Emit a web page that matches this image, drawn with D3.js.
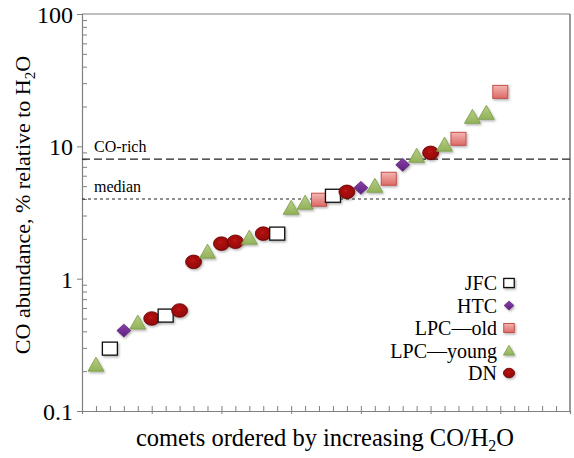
<!DOCTYPE html>
<html><head><meta charset="utf-8">
<script src="https://cdn.jsdelivr.net/npm/d3@7"></script>
<style>body{margin:0;background:#fff;} svg{display:block;} svg text{font-family:"Liberation Serif","Times New Roman",Times,"DejaVu Serif",serif;}</style>
</head><body>
<svg id="c" width="574" height="458"></svg>
<script>
const categories = ["LPC—young","JFC","HTC","LPC—young","DN","JFC","DN","DN","LPC—young","DN",
  "DN","LPC—young","DN","JFC","LPC—young","LPC—young","LPC—old","JFC","DN","HTC",
  "LPC—young","LPC—old","HTC","LPC—young","DN","LPC—young","LPC—old","LPC—young","LPC—young","LPC—old"];
const values = [0.224,0.296,0.405,0.466,0.50,0.526,0.575,1.34,1.6,1.84,
  1.90,2.04,2.19,2.19,3.43,3.75,3.95,4.23,4.53,4.86,
  5.03,5.69,7.25,8.48,8.93,10.3,11.4,16.7,17.9,25.8];
const legendTypes = ["JFC","HTC","LPC—old","LPC—young","DN"];
const yTickLabels = ["0.1","1","10","100"];
const refLines = [{name:"CO-rich", value:8.0}, {name:"median", value:4.0}];

const svg = d3.select("#c");
const L=82, R=570, T=14, B=411;
const x = d3.scaleLinear().domain([0,35]).range([L,R]);
const y = d3.scaleLog().domain([0.1,100]).range([B,T]);

const defs = svg.append("defs");
const gOld = defs.append("linearGradient").attr("id","gold").attr("x1",0).attr("y1",0).attr("x2",0).attr("y2",1);
gOld.append("stop").attr("offset","0%").attr("stop-color","#f4b6b2");
gOld.append("stop").attr("offset","100%").attr("stop-color","#dd6a66");
const gYoung = defs.append("linearGradient").attr("id","gyoung").attr("x1",0).attr("y1",0).attr("x2",0).attr("y2",1);
gYoung.append("stop").attr("offset","0%").attr("stop-color","#b7cf85");
gYoung.append("stop").attr("offset","100%").attr("stop-color","#93b25a");
const gDN = defs.append("radialGradient").attr("id","gdn").attr("cx","45%").attr("cy","40%").attr("r","65%");
gDN.append("stop").attr("offset","0%").attr("stop-color","#b81414");
gDN.append("stop").attr("offset","100%").attr("stop-color","#8c0606");
const gHTC = defs.append("linearGradient").attr("id","ghtc").attr("x1",0).attr("y1",0).attr("x2",0).attr("y2",1);
gHTC.append("stop").attr("offset","0%").attr("stop-color","#8a40a8");
gHTC.append("stop").attr("offset","100%").attr("stop-color","#5e2080");
const sh = defs.append("filter").attr("id","sh").attr("x","-30%").attr("y","-30%").attr("width","170%").attr("height","170%");
sh.append("feDropShadow").attr("dx",1.2).attr("dy",1.5).attr("stdDeviation",1.2).attr("flood-color","#000").attr("flood-opacity",0.3);

// frame
const axisColor = "#808080";
svg.append("line").attr("x1",L).attr("x2",R).attr("y1",T).attr("y2",T).attr("stroke",axisColor).attr("stroke-width",1.2);
svg.append("line").attr("x1",R).attr("x2",R).attr("y1",T).attr("y2",B).attr("stroke","#555").attr("stroke-width",1.2);

// y axis
const yMajor = yTickLabels.map(Number);
const yMinor = [];
for (let d=0.1; d<100; d*=10) for (let k=2;k<=9;k++) yMinor.push(+(d*k).toPrecision(3));
const gyMin = svg.append("g").attr("transform",`translate(${L},0)`).call(d3.axisRight(y).tickValues(yMinor).tickSize(5).tickFormat(""));
gyMin.select(".domain").remove();
gyMin.selectAll("line").attr("stroke",axisColor);
const gy = svg.append("g").attr("transform",`translate(${L},0)`)
  .call(d3.axisLeft(y).tickValues(yMajor).tickSize(5).tickPadding(4).tickFormat((d,i)=>yTickLabels[i]));
gy.attr("font-family",null);
gy.select(".domain").attr("stroke",axisColor).attr("stroke-width",1.2);
gy.selectAll("line").attr("stroke",axisColor);
gy.selectAll("text").attr("font-size",24).attr("fill","#000").attr("dy","0.35em");

// x axis
const xMinor = d3.range(1,35).filter(i=>i%5!==0);
const xMajor = d3.range(5,35,5);
const gxMin = svg.append("g").attr("transform",`translate(0,${B})`).call(d3.axisTop(x).tickValues(xMinor).tickSize(5).tickFormat(""));
gxMin.select(".domain").remove();
gxMin.selectAll("line").attr("stroke",axisColor);
const gx = svg.append("g").attr("transform",`translate(0,${B})`).call(d3.axisBottom(x).tickValues(xMajor).tickSize(3).tickFormat(""));
gx.select(".domain").attr("stroke",axisColor).attr("stroke-width",1.2);
gx.selectAll("line").attr("stroke",axisColor).attr("y1",-5);

// reference lines
refLines.forEach((r,i)=>{
  svg.append("line").attr("x1",L).attr("x2",R).attr("y1",y(r.value)).attr("y2",y(r.value))
    .attr("stroke","#222").attr("stroke-width",1.2).attr("stroke-dasharray", i===0?"8,4":"3,3");
  svg.append("text").attr("x",94).attr("y",y(r.value)-7).text(r.name)
    .attr("font-size",16).attr("fill","#000");
});

function drawMarker(g, type, s){
  if (type==="JFC") {
    g.append("rect").attr("x",-7.5*s).attr("y",-6.5*s).attr("width",15*s).attr("height",13*s)
      .attr("fill","#fff").attr("stroke","#111").attr("stroke-width",1.3);
  } else if (type==="HTC") {
    g.append("path").attr("d",`M0,${-6.5*s}L${7*s},0L0,${6.5*s}L${-7*s},0Z`).attr("fill","url(#ghtc)").attr("stroke","#4a1868").attr("stroke-width",0.6);
  } else if (type==="LPC—old") {
    g.append("rect").attr("x",-7.5*s).attr("y",-6.5*s).attr("width",15*s).attr("height",13*s)
      .attr("fill","url(#gold)").attr("stroke","#c0504d").attr("stroke-width",1);
  } else if (type==="LPC—young") {
    g.append("path").attr("d",`M0,${-7.5*s}L${8*s},${6.5*s}L${-8*s},${6.5*s}Z`).attr("fill","url(#gyoung)").attr("stroke","#7a9a48").attr("stroke-width",0.8);
  } else {
    g.append("ellipse").attr("rx",8*s).attr("ry",6.8*s).attr("fill","url(#gdn)").attr("stroke","#6a0000").attr("stroke-width",0.8);
  }
}

// points
const pts = svg.append("g");
values.forEach((v,i)=>{
  const g = pts.append("g").attr("transform",`translate(${x(i+1)},${y(v)})`).attr("filter","url(#sh)");
  drawMarker(g, categories[i], 1);
});

// legend
const legY = d3.scalePoint().domain(legendTypes).range([283,373]);
legendTypes.forEach(t=>{
  svg.append("text").attr("x",497).attr("y",legY(t)).attr("dy","0.35em").attr("text-anchor","end")
    .attr("font-size",20).attr("fill","#000").text(t);
  const g = svg.append("g").attr("transform",`translate(509,${legY(t)})`).attr("filter","url(#sh)");
  drawMarker(g, t, 0.7);
});

// axis titles
const yl = svg.append("text").attr("transform","translate(30,205) rotate(-90)").attr("text-anchor","middle")
  .attr("font-size",22).attr("fill","#000");
yl.append("tspan").text("CO abundance, % relative to H");
yl.append("tspan").attr("font-size",15).attr("dy",5).text("2");
yl.append("tspan").attr("dy",-5).text("O");
const xl = svg.append("text").attr("x",325).attr("y",446).attr("text-anchor","middle")
  .attr("font-size",24.5).attr("fill","#000");
xl.append("tspan").text("comets ordered by increasing CO/H");
xl.append("tspan").attr("font-size",16).attr("dy",5).text("2");
xl.append("tspan").attr("dy",-5).text("O");
</script>
</body></html>
